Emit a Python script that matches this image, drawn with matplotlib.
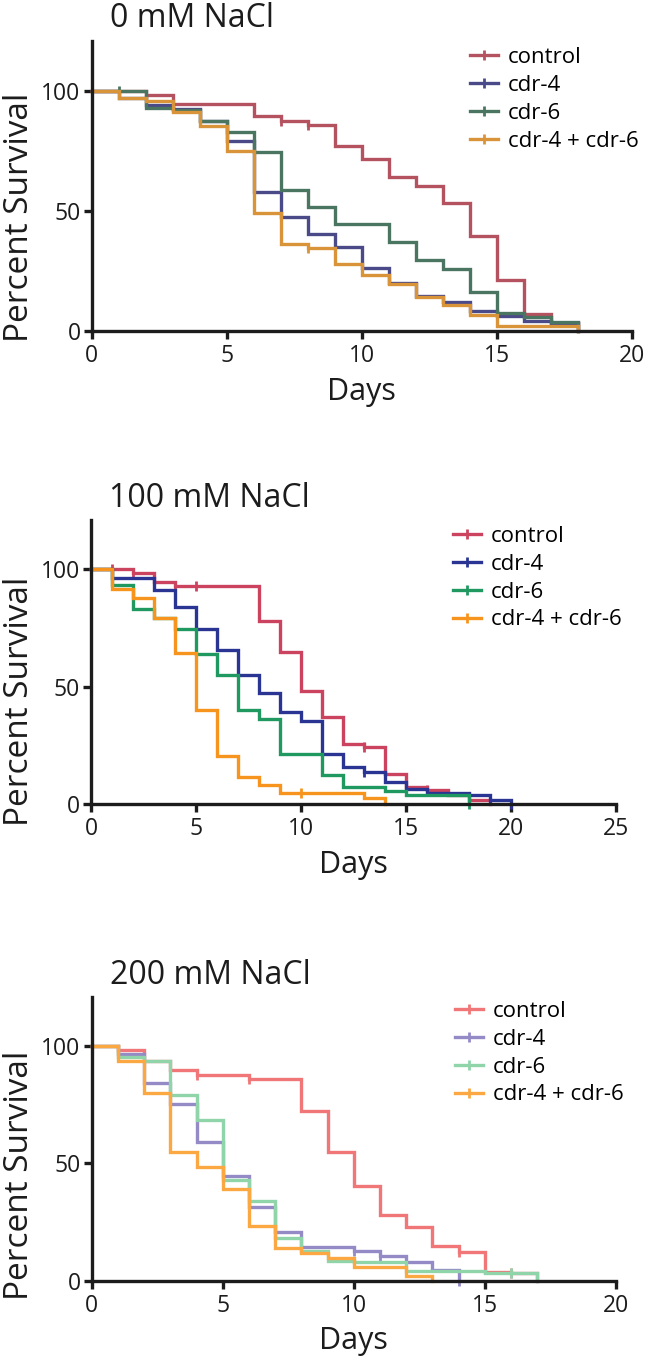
import matplotlib
matplotlib.use("Agg")
import matplotlib.pyplot as plt
from matplotlib.lines import Line2D

plt.rcParams['font.family'] = ['Open Sans', 'DejaVu Sans']

# ---------------------------------------------------------------
# data
# ---------------------------------------------------------------
labels = ["control", "cdr-4", "cdr-6", "cdr-4 + cdr-6"]

# 0 mM NaCl
days_0 = list(range(0, 19))
ctrl_0 = [100, 100, 98.3, 94.6, 94.6, 94.6, 89.6, 87.7, 85.8, 77, 71.6, 64, 60.4, 53.5, 39.6, 21.3, 7.1, 3.5, 0]
cdr4_0 = [100, 97, 94, 92.5, 87.7, 79.2, 58.1, 47.7, 40.3, 35.1, 26.1, 20, 14.5, 12.2, 8.2, 6.3, 4.3, 3.2, 0]
cdr6_0 = [100, 100, 93, 92, 87.7, 83.1, 74.7, 58.8, 51.8, 44.6, 44.6, 37, 29.6, 25.7, 16.4, 7.4, 5.7, 3.9, 0]
dbl_0 = [100, 97, 96, 91.4, 85.4, 75, 49, 36.3, 34.5, 28, 23.5, 19.4, 14.3, 10.8, 6.7, 2.1, 2.1, 2.1, 0]
cens_0 = [[2, 7, 8], [], [1], [8]]

# 100 mM NaCl
days_100 = list(range(0, 21))
ctrl_100 = [100, 100, 98.3, 94.6, 92.9, 92.9, 92.9, 92.9, 77.9, 64.7, 48, 37, 25.6, 24.2, 12.8, 7.4, 6.0, 3.8, 1.7, 0]
cdr4_100 = [100, 96.4, 96.4, 91.2, 84, 74.6, 65.5, 54.8, 47.3, 39.4, 35.4, 21.3, 15.7, 13.8, 9.5, 6.3, 4.6, 4.6, 3.8, 1.7, 0]
cdr6_100 = [100, 93.2, 82.9, 79.4, 74.4, 63.7, 54.8, 40, 36.4, 21.3, 21.3, 12.4, 7.4, 7.4, 5.7, 3.8, 3.8, 3.8, 0]
dbl_100 = [100, 91.7, 87.9, 79.4, 64.4, 40, 20.5, 11.7, 8.1, 4.8, 4.8, 4.8, 4.8, 2.5, 0]
cens_100 = [[1, 2, 4, 5, 13, 16], [13, 19, 20], [18], [10]]

# 200 mM NaCl
days_200 = list(range(0, 18))
ctrl_200 = [100, 98.3, 93.6, 90, 87.9, 87.9, 86.2, 86.2, 72.2, 54.7, 40.5, 28.1, 22.8, 14.6, 12.4, 3.9, 3.1, 0]
cdr4_200 = [100, 96.9, 84.4, 75.5, 59, 44.5, 31.3, 20.9, 14.5, 14.5, 12.8, 10.6, 8.1, 4.5, 0]
cdr6_200 = [100, 95.5, 93.6, 79, 68.7, 43, 34.2, 18.1, 12.5, 8.2, 7.8, 7.8, 4.3, 4.3, 4.3, 3.4, 3.4, 0]
dbl_200 = [100, 93.6, 80.1, 54.7, 48.7, 39, 23.4, 13.8, 11.7, 9.6, 6.0, 6.0, 2.0, 0]
cens_200 = [[1, 4, 6, 14, 16], [10, 11, 14], [16], []]

colors_0 = ["#b5525f", "#4b4a88", "#4a7560", "#d99338"]
colors_100 = ["#cc4360", "#2a3593", "#1f9960", "#f7941d"]
colors_200 = ["#f07677", "#938ac6", "#90d4aa", "#fba843"]

# title, days, series, censor marks, colours, x max, axes box (px), legend anchor, ylabel y
panels = [
    ("0 mM NaCl", days_0, [ctrl_0, cdr4_0, cdr6_0, dbl_0], cens_0, colors_0, 20,
     [91.7, 40.6, 632, 331], (0.684, 1.009), 0.39),
    ("100 mM NaCl", days_100, [ctrl_100, cdr4_100, cdr6_100, dbl_100], cens_100, colors_100, 25,
     [91, 520, 616, 804], (0.673, 1.011), 0.36),
    ("200 mM NaCl", days_200, [ctrl_200, cdr4_200, cdr6_200, dbl_200], cens_200, colors_200, 20,
     [91.7, 997, 615.7, 1280.7], (0.676, 1.018), 0.37),
]

W, H = 645, 1361
fig = plt.figure(figsize=(W / 100, H / 100), dpi=100)

LW = 2.4
INK = "#1c1c1c"
for title, days, series, cens, cols, xmax, box, leg_anchor, ylab_y in panels:
    x0, y0, x1, y1 = box
    ax = fig.add_axes([x0 / W, (H - y1) / H, (x1 - x0) / W, (y1 - y0) / H])
    handles = []
    for vals, cs, c, lab in zip(series, cens, cols, labels):
        d = days[:len(vals)]
        ax.step(d, vals, where="post", color=c, lw=LW, solid_joinstyle="miter", clip_on=False)
        if cs:
            ax.plot(cs, [vals[days.index(t)] for t in cs], ls="none", marker="|",
                    ms=7, mew=2.0, color=c, clip_on=False)
        handles.append(Line2D([], [], color=c, lw=LW, marker="|", ms=7, mew=2.0))

    ax.set_xlim(0, xmax)
    ax.set_ylim(0, 121)
    ax.set_xticks(range(0, xmax + 1, 5))
    ax.set_yticks([0, 50, 100])
    for s in ["top", "right"]:
        ax.spines[s].set_visible(False)
    for s in ["left", "bottom"]:
        ax.spines[s].set_linewidth(2.4)
        ax.spines[s].set_color(INK)
    ax.tick_params(length=5.5, width=2.4, labelsize=16.5, pad=2.5, colors=INK)
    ax.tick_params(axis="x", pad=4)
    ax.set_xlabel("Days", fontsize=22, labelpad=6, color=INK)
    ax.set_ylabel("Percent Survival", fontsize=24, color=INK)
    ax.yaxis.set_label_coords((36 - x0) / (x1 - x0), ylab_y)
    ax.text(0.034, 1.047, title, transform=ax.transAxes, fontsize=23, color=INK,
            ha="left", va="baseline")
    ax.legend(handles, labels, loc="upper left", bbox_to_anchor=leg_anchor, frameon=False,
              fontsize=16, handlelength=1.25, handletextpad=0.45, labelspacing=0.31,
              borderaxespad=0, numpoints=1)

fig.savefig("out.png", dpi=100)
